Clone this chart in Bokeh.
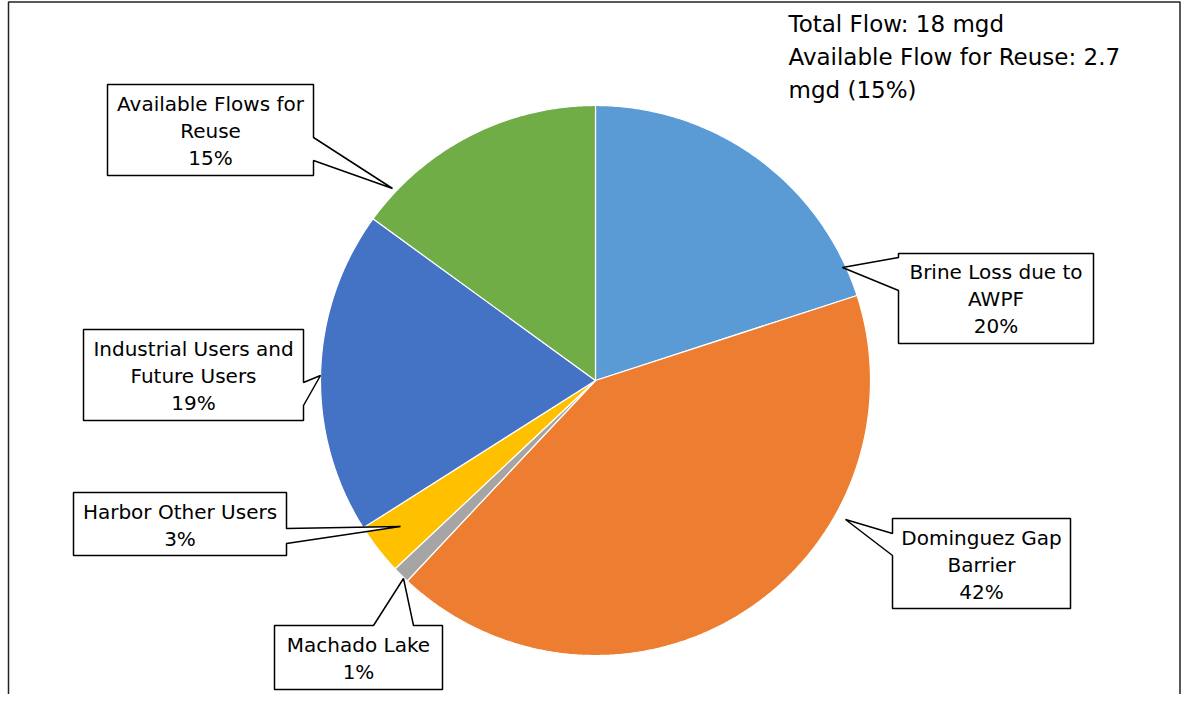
import numpy as np
from bokeh.plotting import figure
from bokeh.models import Range1d, ColumnDataSource
from bokeh.core.properties import value
from bokeh.embed import file_html
from bokeh.resources import INLINE

# ---------------- data ----------------
categories = ["Brine Loss due to AWPF", "Dominguez Gap Barrier", "Machado Lake",
              "Harbor Other Users", "Industrial Users and Future Users",
              "Available Flows for Reuse"]
shares = [20, 42, 1, 3, 19, 15]
colors = ["#5B9BD5", "#ED7D31", "#A5A5A5", "#FFC000", "#4472C4", "#70AD47"]
label_lines = [["Brine Loss due to", "AWPF"], ["Dominguez Gap", "Barrier"],
               ["Machado Lake"], ["Harbor Other Users"],
               ["Industrial Users and", "Future Users"],
               ["Available Flows for", "Reuse"]]
summary_lines = ["Total Flow: 18 mgd", "Available Flow for Reuse: 2.7", "mgd (15%)"]

# ---------------- layout (pixel-like coordinates, y downwards) ----------------
W, H = 1181, 694
CX, CY, R = 595, 380, 275
FONT = value("DejaVu Sans")
LABEL_SIZE = "20px"
SUMMARY_SIZE = "23px"
TEXT_SHIFT = -8

# box: (x0, x1, y0, y1), side of pointer, pointer base (a, b), tip, first text baseline
callouts = [
    dict(box=(898, 1093, 253, 343), side="left", base=(257, 290), tip=(842, 267), first=279),
    dict(box=(892, 1070, 518, 608), side="left", base=(533, 555), tip=(845, 519), first=545),
    dict(box=(274, 442, 625, 689), side="top", base=(373, 413), tip=(403, 578), first=652),
    dict(box=(73, 286, 492, 555), side="right", base=(528, 543), tip=(400, 526), first=519),
    dict(box=(83, 303, 329, 420), side="right", base=(382, 405), tip=(320, 375), first=356),
    dict(box=(107, 313, 84, 175), side="right", base=(137, 160), tip=(392, 188), first=111),
]
LINE_STEP = 27

p = figure(width=W, height=H, x_range=Range1d(0, W), y_range=Range1d(H, 0),
           output_backend="svg", toolbar_location=None, min_border=0,
           x_axis_location=None, y_axis_location=None)
p.grid.visible = False
p.outline_line_color = None
p.background_fill_color = "white"
p.border_fill_color = "white"

# outer frame (left, top, right)
p.line(x=[8, 8, W - 1.5, W - 1.5], y=[H, 1.5, 1.5, H], line_color="#222222", line_width=1.5)

# ---------------- pie slices ----------------
total = float(sum(shares))
fracs = np.array(shares) / total
ends = np.cumsum(fracs) * 2 * np.pi
starts = ends - fracs * 2 * np.pi
xs, ys = [], []
for a0, a1 in zip(starts, ends):
    t = np.linspace(a0, a1, max(int((a1 - a0) * 120), 4))
    xs.append([CX] + list(CX + R * np.sin(t)) + [CX])
    ys.append([CY] + list(CY - R * np.cos(t)) + [CY])
p.patches(xs="xs", ys="ys", fill_color="color", line_color="white", line_width=1.2,
          source=ColumnDataSource(dict(xs=xs, ys=ys, color=colors, name=categories)))

# ---------------- callouts ----------------
def callout_poly(c):
    x0, x1, y0, y1 = c["box"]
    a, b = c["base"]
    tx, ty = c["tip"]
    if c["side"] == "left":
        px = [x0, x1, x1, x0, x0, tx, x0]
        py = [y0, y0, y1, y1, b, ty, a]
    elif c["side"] == "right":
        px = [x0, x1, x1, tx, x1, x1, x0]
        py = [y0, y0, a, ty, b, y1, y1]
    else:  # top
        px = [x0, a, tx, b, x1, x1, x0]
        py = [y0, y0, ty, y0, y0, y1, y1]
    return px, py

cxs, cys = [], []
tx_, ty_, tt_ = [], [], []
for c, lines, share in zip(callouts, label_lines, shares):
    px, py = callout_poly(c)
    cxs.append(px)
    cys.append(py)
    x0, x1, _, _ = c["box"]
    for i, s in enumerate(lines + [f"{share}%"]):
        tx_.append((x0 + x1) / 2)
        ty_.append(c["first"] + i * LINE_STEP + TEXT_SHIFT)
        tt_.append(s)

p.patches(xs=cxs, ys=cys, fill_color="white", line_color="black", line_width=1.5)
p.text(x=tx_, y=ty_, text=tt_, text_align="center", text_baseline="alphabetic",
       text_font=FONT, text_font_size=LABEL_SIZE, text_color="black")

# ---------------- summary text ----------------
p.text(x=[788] * 3, y=[31 + 33 * i + TEXT_SHIFT for i in range(3)], text=summary_lines,
       text_align="left", text_baseline="alphabetic", text_font=FONT,
       text_font_size=SUMMARY_SIZE, text_color="black")

open("out.html", "w").write(file_html(p, INLINE))
